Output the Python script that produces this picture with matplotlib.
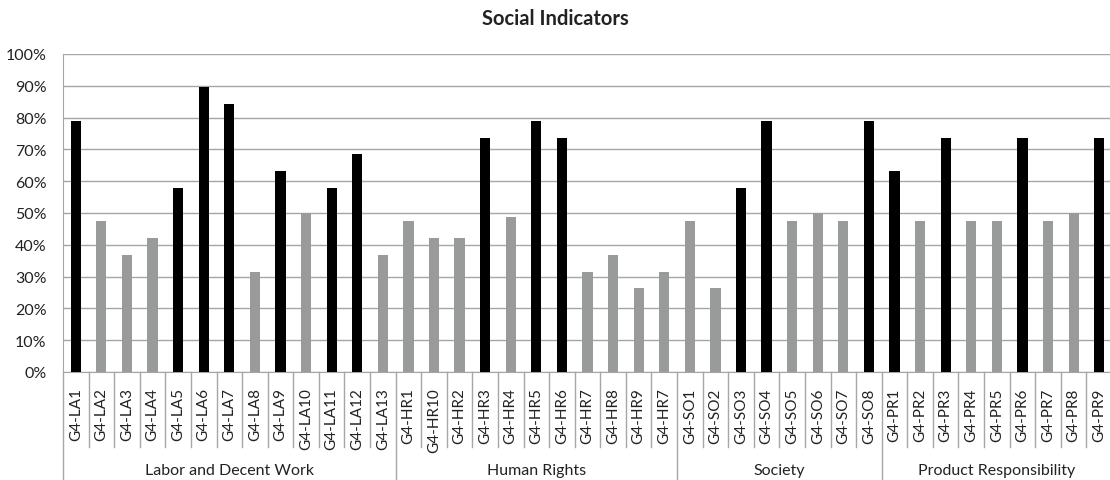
import matplotlib
matplotlib.use("Agg")
import matplotlib.pyplot as plt
from matplotlib.ticker import PercentFormatter

categories = ["G4-LA1", "G4-LA2", "G4-LA3", "G4-LA4", "G4-LA5", "G4-LA6", "G4-LA7",
              "G4-LA8", "G4-LA9", "G4-LA10", "G4-LA11", "G4-LA12", "G4-LA13",
              "G4-HR1", "G4-HR10", "G4-HR2", "G4-HR3", "G4-HR4", "G4-HR5", "G4-HR6",
              "G4-HR7", "G4-HR8", "G4-HR9", "G4-HR7",
              "G4-SO1", "G4-SO2", "G4-SO3", "G4-SO4", "G4-SO5", "G4-SO6", "G4-SO7", "G4-SO8",
              "G4-PR1", "G4-PR2", "G4-PR3", "G4-PR4", "G4-PR5", "G4-PR6", "G4-PR7",
              "G4-PR8", "G4-PR9"]
values = [78.9, 47.4, 36.8, 42.1, 57.9, 89.5, 84.2, 31.6, 63.2, 50.0, 57.9, 68.4, 36.8,
          47.4, 42.1, 42.1, 73.7, 48.6, 78.9, 73.7, 31.6, 36.8, 26.3, 31.6,
          47.4, 26.3, 57.9, 78.9, 47.4, 50.0, 47.4, 78.9,
          63.2, 47.4, 73.7, 47.4, 47.4, 73.7, 47.6, 50.0, 73.7]
highlight = [1, 0, 0, 0, 1, 1, 1, 0, 1, 0, 1, 1, 0,
             0, 0, 0, 1, 0, 1, 1, 0, 0, 0, 0,
             0, 0, 1, 1, 0, 0, 0, 1,
             1, 0, 1, 0, 0, 1, 0, 0, 1]
groups = ["Labor and Decent Work", "Human Rights", "Society", "Product Responsibility"]
group_sizes = [13, 11, 8, 9]

W, H = 1110, 481
fig = plt.figure(figsize=(W / 100, H / 100), dpi=100)
plt.rcParams['font.family'] = ['Lato', 'DejaVu Sans']

left, right, top, bottom = 63, 1112, 55, 373
ax = fig.add_axes([left / W, (H - bottom) / H, (right - left) / W, (bottom - top) / H])

n = len(categories)
x = list(range(n))
colors = ["#000000" if h else "#999b9b" for h in highlight]
ax.bar(x, [v / 100 for v in values], width=0.4, color=colors, zorder=3)

ax.set_xlim(-0.5, n - 0.5)
ax.set_ylim(0, 1.0)
ax.set_yticks([i / 10 for i in range(11)])
ax.yaxis.set_major_formatter(PercentFormatter(1.0, decimals=0))
ax.grid(axis="y", color="#a6a6a6", linewidth=1.0, zorder=0)
ax.tick_params(axis="y", length=0, labelsize=11.5, pad=12, labelcolor="#222222")

for s in ["top", "right"]:
    ax.spines[s].set_visible(False)
ax.spines["left"].set_color("#a6a6a6")
ax.spines["bottom"].set_color("#a6a6a6")

ax.set_xticks(x)
ax.set_xticklabels(categories, rotation=90, fontsize=11, color="#222222")
ax.tick_params(axis="x", length=0, pad=11)

ax_h = bottom - top
sep_short = (448 - bottom) / ax_h
sep_long = (H - bottom) / ax_h
boundaries = [0]
for g in group_sizes:
    boundaries.append(boundaries[-1] + g)
group_edges = set(boundaries)
for b in range(n + 1):
    xb = b - 0.5
    depth = sep_long if b in group_edges else sep_short
    ax.plot([xb, xb], [0, -depth], transform=ax.get_xaxis_transform(),
            color="#a6a6a6", linewidth=1.0, clip_on=False)

for i, g in enumerate(groups):
    c = (boundaries[i] + boundaries[i + 1]) / 2 - 0.5
    ax.text(c, -(471 - bottom) / ax_h, g, transform=ax.get_xaxis_transform(),
            ha="center", va="center", fontsize=11.5, color="#222222")

fig.text(0.5, 1 - 19 / H, "Social Indicators", ha="center", va="center",
         fontsize=14.5, fontweight="bold", color="#222222")

fig.savefig("out.png", dpi=100)
